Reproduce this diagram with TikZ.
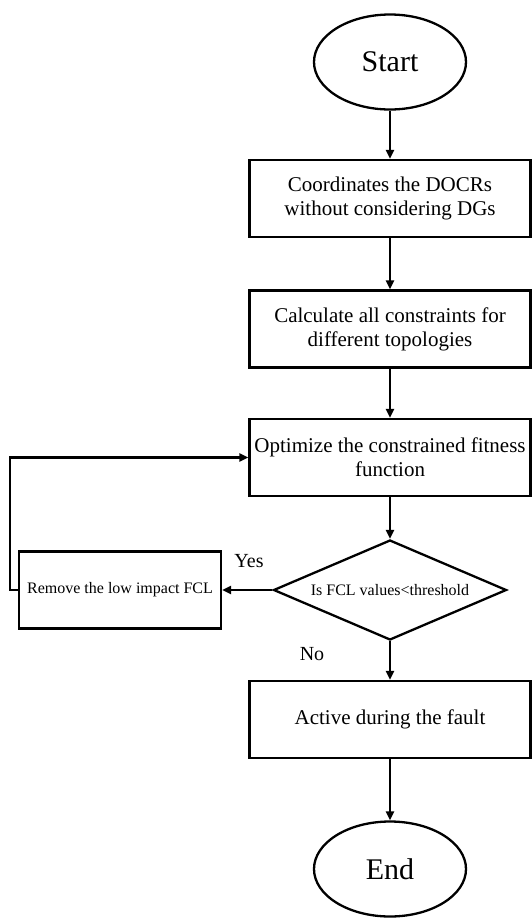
\documentclass[tikz,border=0pt]{standalone}
\usepackage{fontspec}
\setmainfont{Liberation Serif}
\usetikzlibrary{shapes.geometric,arrows.meta}
\begin{document}
\begin{tikzpicture}[x=1pt,y=-1pt,line width=2.3pt,>={Triangle[length=9pt,width=8pt]},
	box/.style={draw,rectangle,minimum width=281pt,minimum height=77pt,inner sep=0pt,align=center,font=\fontsize{21}{24}\selectfont},
	smallbox/.style={box,minimum width=202pt,font=\fontsize{16}{19}\selectfont},
	term/.style={draw,ellipse,minimum width=152pt,minimum height=95pt,inner sep=0pt,font=\fontsize{30}{34}\selectfont},
	test/.style={draw,diamond,aspect=2.33,minimum width=233pt,minimum height=100pt,inner sep=0pt,font=\fontsize{16}{19}\selectfont},
	lbl/.style={font=\fontsize{20}{24}\selectfont}]
				\pgfmathsetmacro\XC{390}
				\fill[white] (0,0) rectangle (532,919);
				\useasboundingbox (0,0) rectangle (532,919);

				\node[term] (start) at (\XC,62) {Start};
				\node[box] (coord) at (\XC,198.5) {Coordinates the DOCRs\\without considering DGs};
				\node[box] (calc) at (\XC,329) {Calculate all constraints for\\different topologies};
				\node[box] (optim) at (\XC,457.5) {Optimize the constrained fitness\\function};
				\node[test] (check) at (\XC,590) {Is FCL values<threshold};
				\node[smallbox] (remove) at (120,590) {Remove the low impact FCL};
				\node[box] (active) at (\XC,719.5) {Active during the fault};
				\node[term] (stop) at (\XC,869) {End};
				\coordinate (back) at (10,590);

				\draw[->] (start) -- (coord);
				\draw[->] (coord) -- (calc);
				\draw[->] (calc) -- (optim);
				\draw[->] (optim) -- (check);
				\draw[->] (check) -- (remove);
				\draw[->] (remove.west) -- (back) |- (optim.west);
				\draw[->] (check) -- (active);
				\draw[->] (active) -- (stop);
				\node[lbl] (yes) at (249,561) {Yes};
				\node[lbl] (no) at (312,654) {No};
			\end{tikzpicture}
\end{document}
